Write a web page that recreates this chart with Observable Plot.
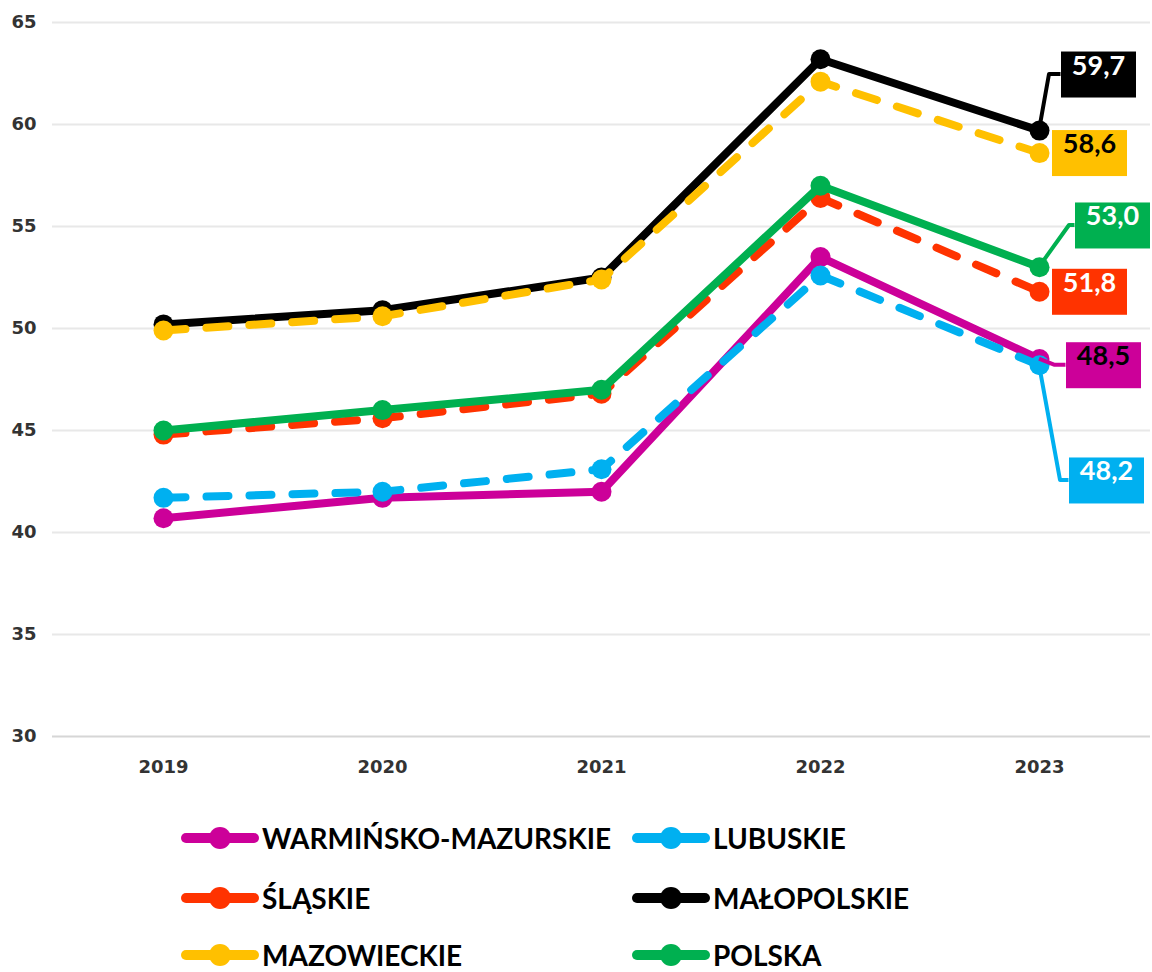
<!DOCTYPE html>
<html><head><meta charset="utf-8">
<script src="https://cdn.jsdelivr.net/npm/d3@7"></script>
<script src="https://cdn.jsdelivr.net/npm/@observablehq/plot@0.6"></script>
<style>
body{margin:0;background:#fff;font-family:Lato,"Open Sans",sans-serif}
#wrap{position:relative;width:1152px;height:972px;overflow:hidden}
#legend{position:absolute;left:0;top:800px;width:1152px;height:172px}
.item{position:absolute;display:flex;align-items:center;font-weight:700;font-size:28px;color:#000;transform:translateY(-50%);white-space:nowrap;line-height:1}
.item svg{display:block;margin-right:3px}
</style></head><body>
<div id="wrap"><div id="chart"></div><div id="legend"></div></div>
<script>
// ---- data ----
const years = [2019, 2020, 2021, 2022, 2023];
const seriesNames = ["WARMIŃSKO-MAZURSKIE", "LUBUSKIE", "ŚLĄSKIE", "MAŁOPOLSKIE", "MAZOWIECKIE", "POLSKA"];
const warminskoMazurskie = [40.7, 41.7, 42.0, 53.5, 48.5];
const lubuskie = [41.7, 42.0, 43.1, 52.6, 48.2];
const slaskie = [44.8, 45.6, 46.8, 56.4, 51.8];
const malopolskie = [50.2, 50.9, 52.5, 63.2, 59.7];
const mazowieckie = [49.9, 50.6, 52.4, 62.1, 58.6];
const polska = [45.0, 46.0, 47.0, 57.0, 53.0];
const yTicks = [30, 35, 40, 45, 50, 55, 60, 65];
const endLabels = ["48,5", "48,2", "51,8", "59,7", "58,6", "53,0"];

// ---- styles ----
const seriesValues = [warminskoMazurskie, lubuskie, slaskie, malopolskie, mazowieckie, polska];
const colors = ["#CC0099", "#00B0F0", "#FF3300", "#000000", "#FFC000", "#00B050"];
const dashed = [false, true, true, false, true, false];
const labelText = ["#000", "#fff", "#fff", "#fff", "#000", "#fff"];
// label placement (y in chart units, dx / elbow in px)
const labelPos = [
  {y: 48.2, dx: 64, elbow: 15},
  {y: 42.55, dx: 67, elbow: 21},
  {y: 51.8, dx: 50, elbow: null},
  {y: 62.45, dx: 59, elbow: 10},
  {y: 58.6, dx: 50, elbow: null},
  {y: 55.05, dx: 73, elbow: 30}
];

const rows = [];
seriesNames.forEach((s, i) => years.forEach((yr, j) => rows.push({series: s, year: yr, value: seriesValues[i][j]})));
const labelRows = seriesNames.map((s, i) => ({series: s, year: years[years.length - 1], value: seriesValues[i][years.length - 1], text: endLabels[i], ly: labelPos[i].y, i}));

const seriesMarks = [];
seriesNames.forEach((s, i) => {
  const data = rows.filter(r => r.series === s);
  seriesMarks.push(Plot.line(data, {x: "year", y: "value", stroke: colors[i], strokeWidth: 8,
    strokeLinecap: "round", strokeLinejoin: "round", strokeDasharray: dashed[i] ? "22,21" : null}));
  seriesMarks.push(Plot.dot(data, {x: "year", y: "value", r: 10, fill: colors[i], stroke: "none"}));
});

const axisFont = {fontSize: 18, fontFamily: "DejaVu Sans", fontWeight: "bold", fill: "#333"};
const plot = Plot.plot({
  width: 1152, height: 800,
  marginTop: 22, marginBottom: 64, marginLeft: 52, marginRight: 2,
  x: {type: "point", domain: years, padding: 0.5},
  y: {domain: [30, 65]},
  style: {background: "#fff"},
  marks: [
    Plot.ruleY(yTicks.filter(t => t > 30), {stroke: "#e8e8e8", strokeWidth: 2}),
    Plot.ruleY([30], {stroke: "#d6d6d6", strokeWidth: 2}),
    Plot.axisY({ticks: yTicks, tickSize: 0, tickPadding: 16, label: null, tickFormat: d => String(d), ...axisFont}),
    Plot.axisX({ticks: years, tickSize: 0, tickPadding: 24, label: null, tickFormat: d => String(d), ...axisFont}),
    ...seriesMarks,
    Plot.text(labelRows, {x: "year", y: "ly", text: "text", fill: d => labelText[d.i],
      fontSize: 27, fontFamily: "Lato", fontWeight: "bold", textAnchor: "middle"})
  ]
});
document.getElementById("chart").appendChild(plot);

// end labels: shift, add boxes and leader lines using Plot's scales
const xs = plot.scale("x"), ys = plot.scale("y");
const svg = d3.select(plot);
const textG = svg.selectAll('g[aria-label="text"]').filter(function(){ return this.querySelector("text"); });
const leaderG = svg.insert("g", () => textG.node());
textG.selectAll("text").each(function(_, k) {
  const d = labelRows[k];
  const p = labelPos[k];
  const t = d3.select(this);
  const x0 = xs.apply(d.year), y0 = ys.apply(d.value), yl = ys.apply(d.ly);
  const cx = x0 + p.dx;
  t.attr("x", cx).attr("y", yl).attr("transform", null);
  const w = 75, h = 46;
  d3.select(this.parentNode).insert("rect", () => this)
    .attr("x", cx - w / 2).attr("y", yl - h / 2).attr("width", w).attr("height", h)
    .attr("fill", colors[d.i]);
  if (p.elbow != null) {
    leaderG.append("path")
      .attr("d", `M${x0},${y0}L${x0 + p.elbow},${yl}L${cx - w / 2},${yl}`)
      .attr("fill", "none").attr("stroke", colors[d.i]).attr("stroke-width", 4)
      .attr("stroke-linejoin", "round");
  }
});

// legend
const legend = d3.select("#legend");
const colLeft = [181, 632], rowTop = [38, 98, 155];
seriesNames.forEach((s, i) => {
  const item = legend.append("div").attr("class", "item")
    .style("left", colLeft[i % 2] + "px").style("top", rowTop[Math.floor(i / 2)] + "px");
  const sw = item.append("svg").attr("width", 78).attr("height", 26);
  sw.append("line").attr("x1", 5).attr("x2", 73).attr("y1", 13).attr("y2", 13)
    .attr("stroke", colors[i]).attr("stroke-width", 10).attr("stroke-linecap", "round");
  sw.append("circle").attr("cx", 39).attr("cy", 13).attr("r", 11).attr("fill", colors[i]);
  item.append("span").text(s);
});
</script>
</body></html>
